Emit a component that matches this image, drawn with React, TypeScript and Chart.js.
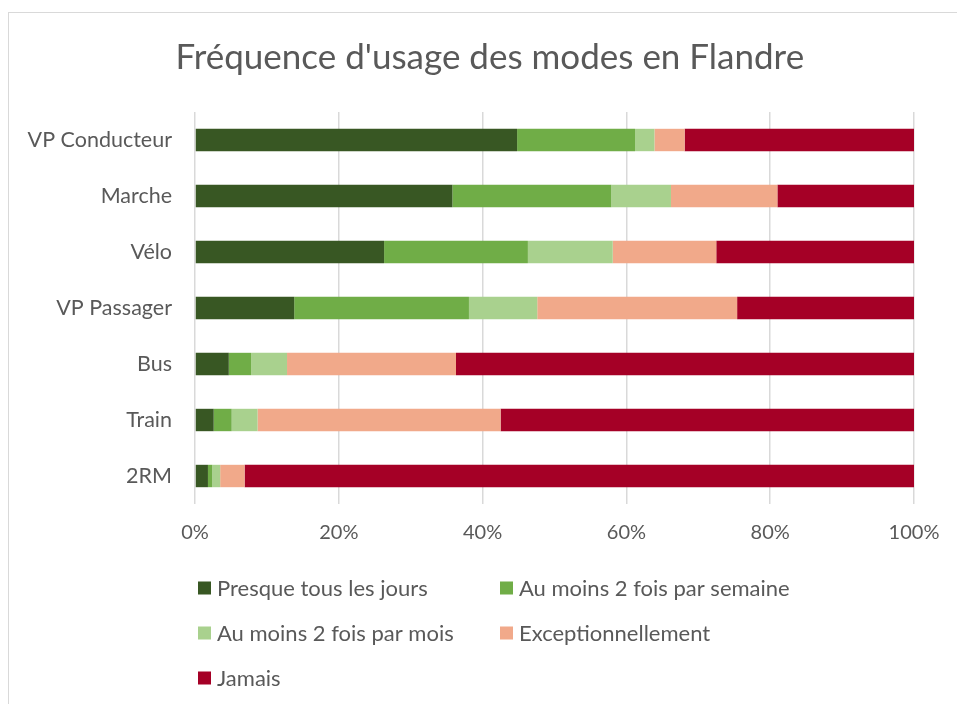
import React, { useEffect, useRef } from "react";
import { Chart, registerables } from "chart.js";

Chart.register(...registerables);

const categories = ["VP Conducteur", "Marche", "Vélo", "VP Passager", "Bus", "Train", "2RM"];
const seriesNames = [
  "Presque tous les jours",
  "Au moins 2 fois par semaine",
  "Au moins 2 fois par mois",
  "Exceptionnellement",
  "Jamais",
];
const presqueTousLesJours = [44.8, 35.8, 26.3, 13.8, 4.7, 2.6, 1.8];
const auMoins2FoisSemaine = [16.4, 22.1, 20.0, 24.3, 3.1, 2.5, 0.6];
const auMoins2FoisMois = [2.7, 8.3, 11.8, 9.5, 5.0, 3.6, 1.1];
const exceptionnellement = [4.2, 14.8, 14.4, 27.8, 23.5, 33.8, 3.4];
const jamais = [31.9, 19.0, 27.5, 24.6, 63.7, 57.5, 93.1];
const xTicks = [0, 20, 40, 60, 80, 100];
const colors = ["#385723", "#70AD47", "#A9D18E", "#F1A98A", "#A50026"];
const titleText = "Fréquence d'usage des modes en Flandre";

const FONT = "Lato, 'Open Sans', sans-serif";
const TEXT = "#595959";

const titlePlugin = {
  id: "frameTitle",
  afterDraw(chart: any) {
    const ctx = chart.ctx;
    ctx.save();
    ctx.font = `35px ${FONT}`;
    ctx.fillStyle = TEXT;
    ctx.textAlign = "center";
    ctx.textBaseline = "middle";
    // centred on the chart frame (which runs from the left border to beyond the right edge)
    ctx.fillText(titleText, chart.chartArea.left + (chart.chartArea.right - chart.chartArea.left) * 0.41, chart.chartArea.top - 54);
    ctx.restore();
  },
};

const legendPlugin = {
  id: "gridLegend",
  afterDraw(chart: any) {
    const ctx = chart.ctx;
    const left = chart.chartArea.left + 3;
    const top = chart.chartArea.bottom + 84;
    ctx.save();
    ctx.font = `22px ${FONT}`;
    ctx.textBaseline = "middle";
    ctx.textAlign = "left";
    chart.data.datasets.forEach((ds: any, i: number) => {
      const col = i % 2;
      const row = Math.floor(i / 2);
      const x = left + col * 302;
      const y = top + row * 45;
      ctx.fillStyle = ds.backgroundColor;
      ctx.fillRect(x, y - 6.5, 13, 13);
      ctx.fillStyle = TEXT;
      ctx.fillText(ds.label, x + 19, y + 1);
    });
    ctx.restore();
  },
};

export default function App() {
  const canvasRef = useRef<HTMLCanvasElement | null>(null);

  useEffect(() => {
    if (!canvasRef.current) return;
    const data = [presqueTousLesJours, auMoins2FoisSemaine, auMoins2FoisMois, exceptionnellement, jamais];
    const chart = new Chart(canvasRef.current, {
      type: "bar",
      data: {
        labels: categories,
        datasets: seriesNames.map((name, i) => ({
          label: name,
          data: data[i],
          backgroundColor: colors[i],
          borderWidth: 0,
          categoryPercentage: 0.4,
          barPercentage: 1,
        })),
      },
      options: {
        indexAxis: "y",
        animation: false,
        responsive: false,
        maintainAspectRatio: false,
        layout: { padding: { left: 0, right: 43, top: 112, bottom: 150 } },
        plugins: {
          legend: { display: false },
          tooltip: { enabled: false },
          title: { display: false },
        },
        scales: {
          x: {
            stacked: true,
            min: 0,
            max: 100,
            afterBuildTicks: (scale: any) => {
              scale.ticks = xTicks.map((v) => ({ value: v }));
            },
            afterFit: (scale: any) => {
              scale.height = 50;
            },
            grid: { color: "#d9d9d9", lineWidth: 1.5, drawTicks: false },
            border: { display: false },
            ticks: {
              color: TEXT,
              font: { family: FONT, size: 20 },
              padding: 17,
              callback: (v: any) => `${v}%`,
            },
          },
          y: {
            stacked: true,
            afterFit: (scale: any) => {
              scale.width = 195;
            },
            grid: { display: false, drawTicks: false },
            border: { display: false },
            ticks: {
              color: TEXT,
              font: { family: FONT, size: 21.5 },
              padding: 23,
            },
          },
        },
      },
      plugins: [titlePlugin, legendPlugin],
    });
    return () => chart.destroy();
  }, []);

  return (
    <div style={{ position: "fixed", left: 0, top: 0, width: 957, height: 704, background: "#fff", overflow: "hidden" }}>
      <div
        style={{
          position: "absolute",
          left: 8,
          top: 12,
          width: 957,
          height: 704,
          borderLeft: "1.5px solid #d9d9d9",
          borderTop: "1.5px solid #d9d9d9",
        }}
      />
      <canvas ref={canvasRef} width={957} height={704} style={{ position: "absolute", left: 0, top: 0 }} />
    </div>
  );
}
